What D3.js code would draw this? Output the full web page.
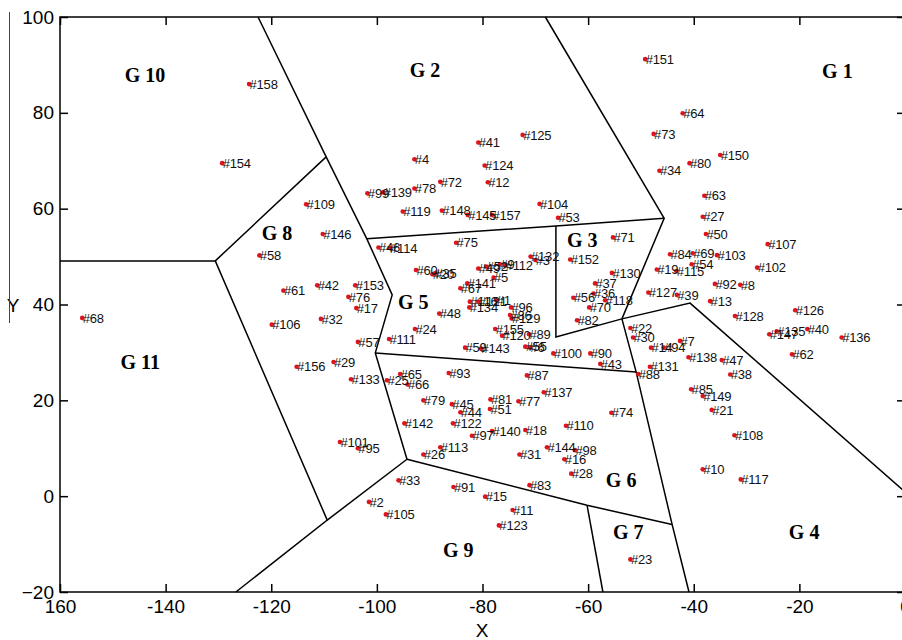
<!DOCTYPE html>
<html>
<head>
<meta charset="utf-8">
<script src="https://cdn.jsdelivr.net/npm/d3@7/dist/d3.min.js"></script>
<style>
  body { margin: 0; background: #fff; }
</style>
</head>
<body>
<script>
// point ids and coordinates
var ids = [1,2,3,4,5,6,7,8,9,10,11,12,13,14,15,16,17,18,19,20,
  21,22,23,24,25,26,27,28,29,30,31,32,33,34,35,36,37,38,39,40,
  41,42,43,44,45,46,47,48,49,50,51,52,53,54,55,56,57,58,59,60,
  61,62,63,64,65,66,67,68,69,70,71,72,73,74,75,76,77,78,79,80,
  81,82,83,84,85,86,87,88,89,90,91,92,93,94,95,96,97,98,99,100,
  101,102,103,104,105,106,107,108,109,110,111,112,113,114,115,116,117,118,119,120,
  121,122,123,124,125,126,127,128,129,130,131,132,133,134,135,136,137,138,139,140,
  141,142,143,144,145,146,147,148,149,150,151,152,153,154,155,156,157,158];

var xs = [-77.4,-101.5,-70.0,-92.9,-77.9,-71.0,-42.6,-31.2,-76.7,-38.3,
  -74.3,-79.0,-36.9,-48.1,-79.5,-64.5,-103.9,-71.9,-47.0,-89.5,
  -36.6,-52.0,-52.0,-92.8,-98.1,-91.2,-38.3,-63.2,-108.2,-51.5,
  -73.0,-110.6,-95.9,-46.5,-89.0,-59.0,-58.7,-33.1,-43.2,-18.5,
  -80.8,-111.3,-57.7,-84.2,-85.8,-99.7,-34.7,-88.2,-80.8,-37.7,
  -78.6,-79.3,-65.7,-40.4,-71.9,-62.8,-103.6,-122.25,-83.3,-92.6,
  -117.7,-21.4,-38.0,-42.1,-95.6,-94.2,-84.2,-155.8,-40.2,-59.8,
  -55.3,-88.0,-47.6,-55.6,-85.0,-105.4,-73.2,-92.9,-91.2,-40.8,
  -78.5,-62.1,-71.1,-44.5,-40.5,-74.8,-71.6,-50.5,-71.2,-59.6,
  -85.5,-36.0,-86.4,-45.7,-103.6,-74.6,-82.0,-62.5,-101.8,-66.6,
  -107.0,-28.0,-35.6,-69.2,-98.3,-119.9,-26.0,-32.3,-113.4,-64.2,
  -97.7,-75.7,-88.0,-97.6,-43.3,-82.4,-31.1,-56.8,-95.1,-76.3,
  -80.8,-85.6,-76.9,-79.6,-72.4,-20.8,-48.6,-32.2,-74.5,-55.5,
  -48.3,-70.9,-104.9,-82.5,-24.3,-12.0,-68.4,-41.0,-98.8,-78.2,
  -82.9,-94.8,-80.3,-67.8,-82.8,-110.25,-25.7,-87.7,-38.3,-35.0,
  -49.2,-63.4,-104.1,-129.3,-77.6,-115.2,-78.2,-124.2];

var ys = [40.9,-1.2,49.3,70.3,45.6,31.0,32.4,44.1,48.4,5.6,
  -2.9,65.5,40.7,31.0,-0.1,7.7,39.25,13.8,47.3,46.3,
  18.0,35.1,-13.2,34.9,24.2,8.7,58.3,4.7,28.0,33.1,
  8.7,37.0,3.3,67.9,46.5,42.3,44.4,25.4,42.0,34.9,
  73.8,44.0,27.6,17.5,19.2,51.9,28.4,38.1,47.5,54.7,
  18.2,47.9,58.1,48.4,31.2,41.4,32.2,50.25,31.0,47.2,
  42.9,29.6,62.7,79.9,25.5,23.3,43.4,37.2,50.7,39.4,
  54.0,65.6,75.6,17.4,52.9,41.6,19.8,64.2,20.0,69.5,
  20.2,36.7,2.3,50.5,22.3,37.8,25.2,25.5,33.8,29.8,
  1.9,44.3,25.7,31.0,10.0,39.4,12.6,9.6,63.2,29.8,
  11.3,47.7,50.3,61.0,-3.8,35.8,52.6,12.7,60.9,14.7,
  32.8,48.2,10.2,51.8,47.0,40.6,3.5,40.9,59.4,33.5,
  40.6,15.2,-6.1,69.0,75.4,38.8,42.5,37.6,37.1,46.6,
  27.0,50.0,24.4,39.4,34.4,33.1,21.7,29.0,63.4,13.6,
  44.4,15.2,30.8,10.2,58.7,54.7,33.8,59.6,20.9,71.2,
  91.2,49.4,44.0,69.5,34.9,27.0,58.7,86.0];

// cell boundaries (polylines in data units)
var boundaries = [
  [[-122.5,100],[-109.6,70.8],[-101.9,53.7],[-97.1,42.0],[-100.3,29.9],[-94.3,7.7]],
  [[-160,49.1],[-130.6,49.1],[-109.6,70.8]],
  [[-130.6,49.1],[-109.4,-5.0],[-126.7,-20]],
  [[-109.4,-5.0],[-94.3,7.7]],
  [[-101.9,53.7],[-66.1,56.4],[-45.6,58.0]],
  [[-68.1,100],[-45.6,58.0],[-53.6,37.0]],
  [[-66.1,56.4],[-66.1,33.2],[-53.6,37.0]],
  [[-53.6,37.0],[-40.7,40.3],[0,0.9]],
  [[-53.6,37.0],[-50.9,25.9],[-44.1,-5.9],[-40.9,-20]],
  [[-100.3,29.9],[-50.9,25.9]],
  [[-94.3,7.7],[-60.2,-1.9],[-44.1,-5.9]],
  [[-60.2,-1.9],[-57.2,-20]]
];

var groupNames = ["G 10","G 2","G 1","G 8","G 3","G 5","G 11","G 6","G 7","G 4","G 9"];
var groupX = [-143.9,-90.9,-12.8,-118.9,-61.1,-93.1,-144.8,-53.75,-52.4,-19.1,-84.6];
var groupY = [87.9,88.9,88.7,54.9,53.4,40.5,28.0,3.3,-7.5,-7.5,-11.3];

var xTicks = [-160,-140,-120,-100,-80,-60,-40,-20,0];
var xTickLabels = ["160","-140","-120","-100","-80","-60","-40","-20","0"];
var yTicks = [-20,0,20,40,60,80,100];

var w = 902;
var h = 640;
var padL = 60, padR = 905, padT = 17, padB = 592;

var svg = d3.select("body")
  .append("svg")
  .attr("width", w)
  .attr("height", h);

var x = d3.scaleLinear().domain([-160, 0]).range([padL, padR]);
var y = d3.scaleLinear().domain([-20, 100]).range([padB, padT]);

// boundaries
var line = d3.line()
  .x(function(d) { return x(d[0]); })
  .y(function(d) { return y(d[1]); });

svg.selectAll("path.cell")
  .data(boundaries)
  .enter()
  .append("path")
  .attr("class", "cell")
  .attr("d", line)
  .attr("fill", "none")
  .attr("stroke", "#000")
  .attr("stroke-width", 1.5);

// axes, ticks on all four sides pointing inward
var fontAxis = "'Liberation Sans', Arial, sans-serif";

svg.append("g")
  .attr("transform", "translate(0," + padB + ")")
  .call(d3.axisBottom(x).tickValues(xTicks)
    .tickFormat(function(d, i) { return xTickLabels[i]; })
    .tickSizeInner(-8).tickSizeOuter(0).tickPadding(8));

svg.append("g")
  .attr("transform", "translate(0," + padT + ")")
  .call(d3.axisTop(x).tickValues(xTicks).tickFormat("")
    .tickSizeInner(-8).tickSizeOuter(0));

svg.append("g")
  .attr("transform", "translate(" + padL + ",0)")
  .call(d3.axisLeft(y).tickValues(yTicks)
    .tickSizeInner(-8).tickSizeOuter(0).tickPadding(6));

svg.append("g")
  .attr("transform", "translate(" + padR + ",0)")
  .call(d3.axisRight(y).tickValues(yTicks).tickFormat("")
    .tickSizeInner(-8).tickSizeOuter(0));

svg.selectAll(".domain").remove();
svg.selectAll(".tick line").attr("stroke", "#000").attr("stroke-width", 1.5);
svg.selectAll(".tick text")
  .attr("font-family", fontAxis)
  .attr("font-size", "19px")
  .attr("fill", "#000");

// frame
svg.append("rect")
  .attr("x", padL)
  .attr("y", padT)
  .attr("width", padR - padL)
  .attr("height", padB - padT)
  .attr("fill", "none")
  .attr("stroke", "#000")
  .attr("stroke-width", 1.5);

// axis titles
svg.append("text")
  .text("X")
  .attr("x", 482)
  .attr("y", 637)
  .attr("text-anchor", "middle")
  .attr("font-family", fontAxis)
  .attr("font-size", "19px");

svg.append("text")
  .text("Y")
  .attr("x", 13)
  .attr("y", 312)
  .attr("text-anchor", "middle")
  .attr("font-family", fontAxis)
  .attr("font-size", "19px");

svg.append("line")
  .attr("x1", 9.5).attr("x2", 9.5)
  .attr("y1", 12).attr("y2", 323)
  .attr("stroke", "#444")
  .attr("stroke-width", 1);

// points
var points = ids.map(function(id, i) { return { id: id, x: xs[i], y: ys[i] }; });

svg.selectAll("circle")
  .data(points)
  .enter()
  .append("circle")
  .attr("cx", function(d) { return x(d.x); })
  .attr("cy", function(d) { return y(d.y); })
  .attr("r", 2.3)
  .attr("fill", "#e0141e");

svg.selectAll("text.lbl")
  .data(points)
  .enter()
  .append("text")
  .attr("class", "lbl")
  .text(function(d) { return "#" + d.id; })
  .attr("x", function(d) { return x(d.x) + 0.5; })
  .attr("y", function(d) { return y(d.y); })
  .attr("dy", "0.36em")
  .attr("font-family", fontAxis)
  .attr("font-size", "13px")
  .attr("letter-spacing", "-0.2px")
  .attr("fill", "#111");

// group names
svg.selectAll("text.grp")
  .data(groupNames)
  .enter()
  .append("text")
  .attr("class", "grp")
  .text(function(d) { return d; })
  .attr("x", function(d, i) { return x(groupX[i]); })
  .attr("y", function(d, i) { return y(groupY[i]); })
  .attr("dy", "0.35em")
  .attr("text-anchor", "middle")
  .attr("font-family", "'Liberation Serif', 'Times New Roman', serif")
  .attr("font-weight", "bold")
  .attr("font-size", "20px");
</script>
</body>
</html>
